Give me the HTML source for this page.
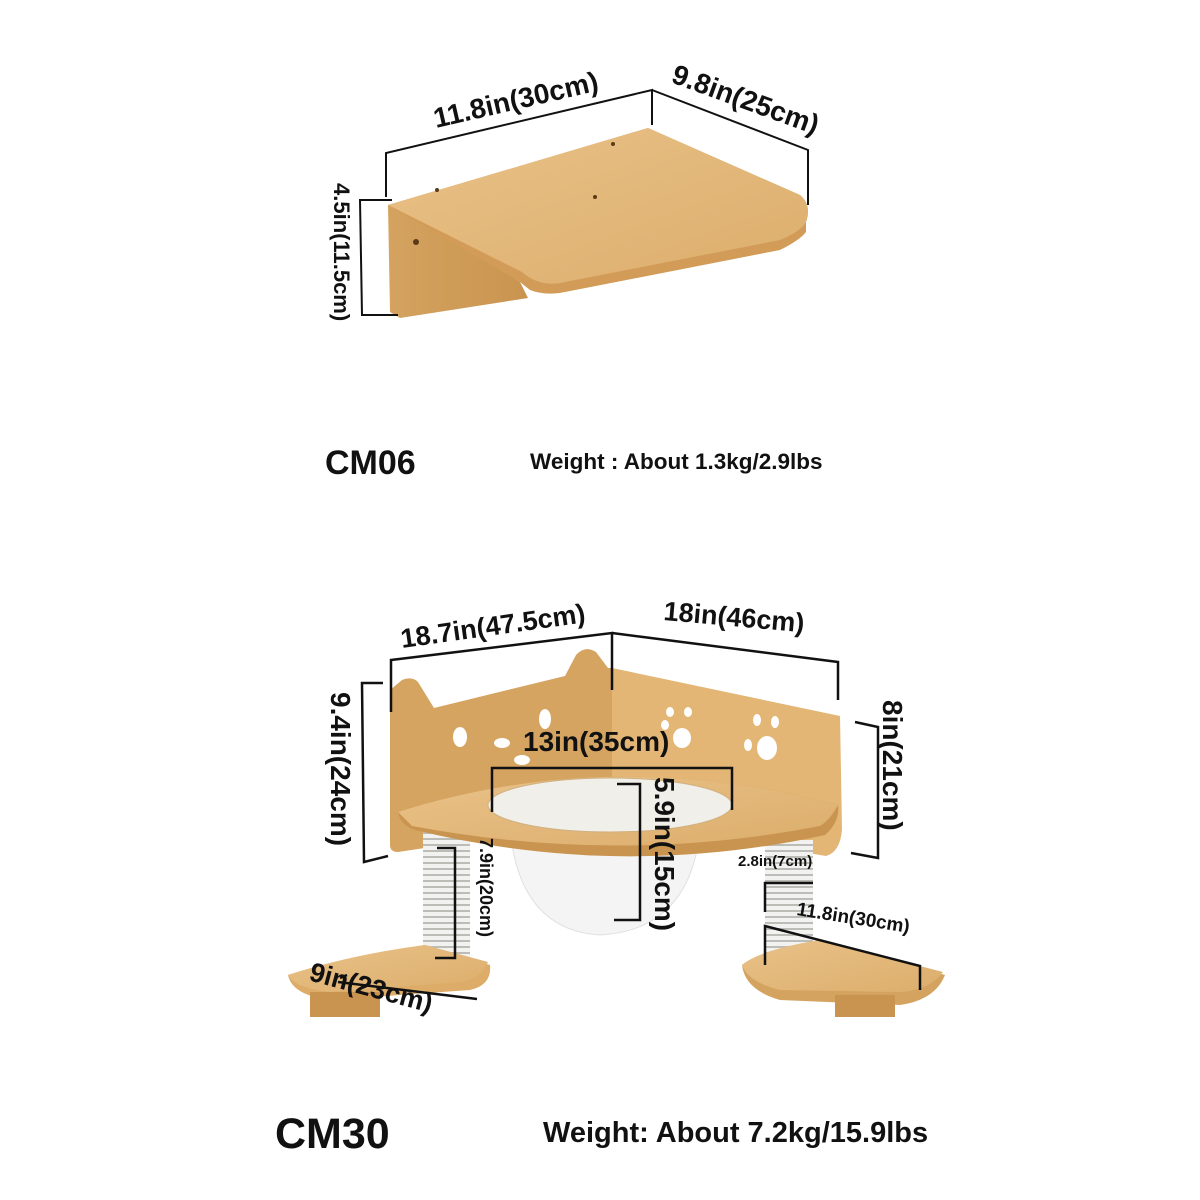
<!DOCTYPE html>
<html><head><meta charset="utf-8"><style>
html,body{margin:0;padding:0;background:#fff}
svg{display:block}
text{font-family:"Liberation Sans",Arial,sans-serif;font-weight:bold;fill:#111}
</style></head><body>
<svg width="1200" height="1200" viewBox="0 0 1200 1200" xmlns="http://www.w3.org/2000/svg">
<defs>
<linearGradient id="w" x1="0" y1="0" x2="1" y2="1"><stop offset="0" stop-color="#e9c188"/><stop offset="1" stop-color="#dcae6c"/></linearGradient>
<linearGradient id="wd" x1="0" y1="0" x2="1" y2="0"><stop offset="0" stop-color="#d4a35f"/><stop offset="1" stop-color="#c9944f"/></linearGradient>
<pattern id="st" width="10" height="6" patternUnits="userSpaceOnUse"><rect width="10" height="6" fill="#f2f2f0"/><rect y="4" width="10" height="2" fill="#bdbdb8"/></pattern>
</defs>

<!-- TOP SHELF -->
<polygon points="388,205 400,205 520,282 528,298 400,318 390,312" fill="url(#wd)"/>
<path d="M388,205 L648,128 L800,195 Q812,205 806,222 L806,232 Q800,240 780,250 L565,292 Q545,296 530,290 L520,282 Z" fill="#d29c58"/>
<path d="M388,205 L648,128 L800,195 Q812,205 806,222 Q800,232 780,240 L565,282 Q540,288 522,272 Z" fill="url(#w)"/>
<circle cx="416" cy="242" r="3" fill="#5a3a18"/>
<circle cx="437" cy="190" r="2" fill="#5a3a18"/><circle cx="613" cy="144" r="2" fill="#5a3a18"/><circle cx="595" cy="197" r="2" fill="#5a3a18"/>
<g stroke="#111" stroke-width="2" fill="none">
<polyline points="386,197 386,153 652,90 652,125"/>
<polyline points="652,90 808,150 808,205"/>
<polyline points="392,200 360,200 362,315 398,315"/>
</g>
<text transform="translate(436,128) rotate(-13)" font-size="28">11.8in(30cm)</text>
<text transform="translate(670,82) rotate(20)" font-size="28">9.8in(25cm)</text>
<text transform="translate(334,183) rotate(90)" font-size="22">4.5in(11.5cm)</text>
<text x="325" y="474" font-size="34">CM06</text>
<text x="530" y="469" font-size="22.5">Weight : About 1.3kg/2.9lbs</text>

<!-- BOTTOM UNIT -->
<path d="M612,668 L840,716 L842,830 Q840,852 826,856 L612,820 Z" fill="#e3b675"/>
<path d="M390,690 L402,680 Q412,676 418,682 L434,708 L565,676 L576,655 Q585,645 596,652 L608,668 L612,668 L612,820 L398,852 Q390,852 390,845 Z" fill="#d6a461"/>
<g fill="#fff">
<ellipse cx="460" cy="737" rx="7" ry="10"/><ellipse cx="545" cy="719" rx="6" ry="10"/>
<ellipse cx="502" cy="743" rx="8" ry="5"/><ellipse cx="522" cy="760" rx="8" ry="5"/>
<ellipse cx="682" cy="738" rx="9" ry="10"/><ellipse cx="670" cy="712" rx="4" ry="5"/><ellipse cx="688" cy="712" rx="4" ry="5"/><ellipse cx="665" cy="725" rx="4" ry="5"/>
<ellipse cx="767" cy="748" rx="10" ry="12"/><ellipse cx="757" cy="720" rx="4" ry="6"/><ellipse cx="775" cy="722" rx="4" ry="6"/><ellipse cx="748" cy="745" rx="4" ry="6"/>
</g>
<rect x="423" y="830" width="47" height="135" fill="url(#st)"/>
<rect x="765" y="840" width="48" height="125" fill="url(#st)"/>
<path d="M510,830 Q520,930 600,935 Q690,930 700,830 Z" fill="#f4f4f4" stroke="#e0e0e0"/>
<path d="M398,812 Q610,745 838,805 Q840,822 825,835 Q620,880 415,830 Q400,825 398,812 Z" fill="#c9944f"/>
<path d="M398,812 Q610,745 838,805 Q830,820 820,826 Q620,865 412,826 Z" fill="url(#w)"/>
<ellipse cx="610" cy="805" rx="122" ry="27" fill="#f1efe9" stroke="#d0b080"/>
<path d="M288,975 Q350,955 425,945 L490,965 Q492,985 470,990 L330,1000 Q292,995 288,975 Z" fill="#dcac68"/>
<rect x="310" y="992" width="70" height="25" fill="#c9944f"/>
<path d="M288,975 Q350,955 425,945 L488,962 Q480,980 460,982 L330,992 Q295,988 288,975 Z" fill="url(#w)"/>
<path d="M742,965 Q760,950 820,940 L945,975 Q935,1000 900,1005 L780,1000 Q745,990 742,965 Z" fill="#d4a35f"/>
<rect x="835" y="995" width="60" height="22" fill="#c9944f"/>
<path d="M742,965 Q760,950 820,940 L943,972 Q930,990 900,992 L780,990 Q748,982 742,965 Z" fill="url(#w)"/>

<g stroke="#111" stroke-width="2.5" fill="none">
<polyline points="391,712 391,660 612,633 612,690"/>
<polyline points="612,633 838,662 838,700"/>
<polyline points="383,683 362,683 364,862 388,856"/>
<polyline points="855,722 878,727 878,858 851,853"/>
<polyline points="492,812 492,768 732,768 732,810"/>
<polyline points="617,784 640,784 640,920 614,920"/>
<polyline points="437,848 455,848 455,958 435,958"/>
<polyline points="765,912 765,883 813,883"/>
<polyline points="765,965 765,926 920,966 920,990"/>
<polyline points="338,982 477,999"/><polyline points="340,978 347,975"/>
</g>
<text transform="translate(402,648) rotate(-8)" font-size="27">18.7in(47.5cm)</text>
<text transform="translate(663,620) rotate(5)" font-size="27">18in(46cm)</text>
<text transform="translate(331,692) rotate(90)" font-size="28">9.4in(24cm)</text>
<text transform="translate(883,700) rotate(90)" font-size="28">8in(21cm)</text>
<text x="523" y="751" font-size="28">13in(35cm)</text>
<text transform="translate(655,777) rotate(90)" font-size="28">5.9in(15cm)</text>
<text transform="translate(480,838) rotate(90)" font-size="18">7.9in(20cm)</text>
<text x="738" y="866" font-size="15">2.8in(7cm)</text>
<text transform="translate(796,915) rotate(9)" font-size="19">11.8in(30cm)</text>
<text transform="translate(308,980) rotate(15)" font-size="27">9in(23cm)</text>
<text x="275" y="1148" font-size="43">CM30</text>
<text x="543" y="1142" font-size="29">Weight: About 7.2kg/15.9lbs</text>
</svg>
</body></html>
